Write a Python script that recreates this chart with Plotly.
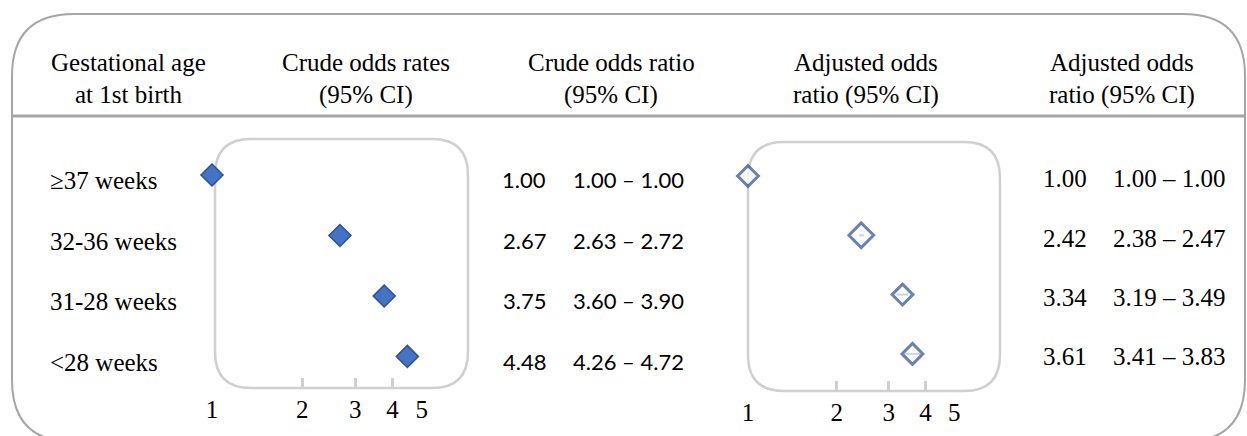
import math
import plotly.graph_objects as go

W, H = 1247, 436

# ---------------- data ----------------
groups = ["≥37 weeks", "32-36 weeks", "31-28 weeks", "<28 weeks"]
crude_or = [1.00, 2.67, 3.75, 4.48]
crude_lo = [1.00, 2.63, 3.60, 4.26]
crude_hi = [1.00, 2.72, 3.90, 4.72]
adj_or = [1.00, 2.42, 3.34, 3.61]
adj_lo = [1.00, 2.38, 3.19, 3.41]
adj_hi = [1.00, 2.47, 3.49, 3.83]
axis_ticks = [1, 2, 3, 4, 5]
inner_ticks = [2, 3, 4]
header_line1 = ["Gestational age", "Crude odds rates", "Crude odds ratio", "Adjusted odds", "Adjusted odds"]
header_line2 = ["at 1st birth", "(95% CI)", "(95% CI)", "ratio (95% CI)", "ratio (95% CI)"]

# ---------------- helpers ----------------
def fx(px):
    return px / W

def fy(py):
    return 1 - py / H

def rounded_path(x0, y0, x1, y1, r):
    """Rounded rectangle path in paper coordinates from pixel corners."""
    pts = [
        ("M", fx(x0 + r), fy(y0)),
        ("L", fx(x1 - r), fy(y0)),
        ("Q", fx(x1), fy(y0), fx(x1), fy(y0 + r)),
        ("L", fx(x1), fy(y1 - r)),
        ("Q", fx(x1), fy(y1), fx(x1 - r), fy(y1)),
        ("L", fx(x0 + r), fy(y1)),
        ("Q", fx(x0), fy(y1), fx(x0), fy(y1 - r)),
        ("L", fx(x0), fy(y0 + r)),
        ("Q", fx(x0), fy(y0), fx(x0 + r), fy(y0)),
    ]
    s = ""
    for p in pts:
        s += p[0] + " " + " ".join(f"{v:.5f}" for v in p[1:]) + " "
    return s + "Z"

SERIF = "'Liberation Serif', 'Times New Roman', Times, 'DejaVu Serif', serif"
SANS = "Lato, 'Open Sans', sans-serif"
BLUE = "#4472C4"
DARK_BLUE = "#2F528F"
OPEN_BLUE = "#2B4F8F"

fig = go.Figure()

# crude panel
fig.add_trace(go.Scatter(
    x=crude_or, y=groups, xaxis="x", yaxis="y", mode="markers",
    marker=dict(symbol="diamond", size=17, color=BLUE, line=dict(color=DARK_BLUE, width=1.5)),
    error_x=dict(type="data", symmetric=False,
                 array=[h - o for h, o in zip(crude_hi, crude_or)],
                 arrayminus=[o - l for o, l in zip(crude_or, crude_lo)],
                 color=BLUE, thickness=2, width=0),
    cliponaxis=False, showlegend=False, hoverinfo="x+y",
))

# adjusted panel
fig.add_trace(go.Scatter(
    x=adj_or, y=groups, xaxis="x2", yaxis="y2", mode="markers",
    marker=dict(symbol="diamond", size=[16, 19, 16, 16], color="white",
                line=dict(color=OPEN_BLUE, width=3)),
    error_x=dict(type="data", symmetric=False,
                 array=[h - o for h, o in zip(adj_hi, adj_or)],
                 arrayminus=[o - l for o, l in zip(adj_or, adj_lo)],
                 color=BLUE, thickness=2, width=0),
    cliponaxis=False, showlegend=False, hoverinfo="x+y",
))

# invisible carriers so the overlaid tick-mark axes get drawn
fig.add_trace(go.Scatter(x=inner_ticks, y=[groups[0]] * len(inner_ticks), xaxis="x3", yaxis="y",
                         mode="markers", marker=dict(opacity=0), hoverinfo="skip", showlegend=False))
fig.add_trace(go.Scatter(x=inner_ticks, y=[groups[0]] * len(inner_ticks), xaxis="x4", yaxis="y2",
                         mode="markers", marker=dict(opacity=0), hoverinfo="skip", showlegend=False))

# axis geometry (pixel mapping: px = origin + scale*log10(v))
L_orig, L_scale, L_dom = 212, 300, (200, 468)
R_orig, R_scale, R_dom = 748, 295, (735, 1000)
L_range = [(L_dom[0] - L_orig) / L_scale, (L_dom[1] - L_orig) / L_scale]
R_range = [(R_dom[0] - R_orig) / R_scale, (R_dom[1] - R_orig) / R_scale]

tickfont = dict(family=SERIF, size=25, color="black")
base_x = dict(type="log", showgrid=False, zeroline=False, showline=False, fixedrange=True)

fig.update_layout(
    xaxis=dict(**base_x, domain=[fx(L_dom[0]), fx(L_dom[1])], range=L_range, anchor="y",
               tickvals=axis_ticks, ticktext=[str(t) for t in axis_ticks], ticks="",
               tickfont=tickfont, ticklabelstandoff=4),
    xaxis3=dict(**base_x, overlaying="x", range=L_range, anchor="y", side="bottom", tickvals=inner_ticks,
                ticks="inside", ticklen=10, tickwidth=3, tickcolor="#d0d0d0", showticklabels=False),
    yaxis=dict(type="category", domain=[fy(388), fy(139)], range=[3.521, -0.595], anchor="x",
               showticklabels=False, showgrid=False, zeroline=False, showline=False, ticks="", fixedrange=True),
    xaxis2=dict(**base_x, domain=[fx(R_dom[0]), fx(R_dom[1])], range=R_range, anchor="y2",
                tickvals=axis_ticks, ticktext=[str(t) for t in axis_ticks], ticks="",
                tickfont=tickfont, ticklabelstandoff=4),
    xaxis4=dict(**base_x, overlaying="x2", range=R_range, anchor="y2", side="bottom", tickvals=inner_ticks,
                ticks="inside", ticklen=10, tickwidth=3, tickcolor="#d0d0d0", showticklabels=False),
    yaxis2=dict(type="category", domain=[fy(391), fy(142)], range=[3.626, -0.573], anchor="x2",
                showticklabels=False, showgrid=False, zeroline=False, showline=False, ticks="", fixedrange=True),
)

# shapes: outer frame, divider, inner panel frames
shapes = [
    dict(type="path", xref="paper", yref="paper", path=rounded_path(12, 14, 1245, 442, 62),
         line=dict(color="#a6a6a6", width=2), layer="below"),
    dict(type="line", xref="paper", yref="paper", x0=fx(12), x1=fx(1245), y0=fy(116), y1=fy(116),
         line=dict(color="#a6a6a6", width=3), layer="below"),
    dict(type="path", xref="paper", yref="paper", path=rounded_path(215, 139, 468, 388, 36),
         line=dict(color="#d0d0d0", width=2.5), layer="below"),
    dict(type="path", xref="paper", yref="paper", path=rounded_path(748, 142, 1000, 391, 36),
         line=dict(color="#d0d0d0", width=2.5), layer="below"),
]

annotations = []
header_x = [128, 366, 611, 866, 1122]
for hx, l1, l2 in zip(header_x, header_line1, header_line2):
    for txt, hy in ((l1, 63), (l2, 95)):
        annotations.append(dict(text=txt, x=fx(hx), y=fy(hy), xref="paper", yref="paper",
                                xanchor="center", yanchor="middle", showarrow=False,
                                font=dict(family=SERIF, size=25, color="black")))

for i, g in enumerate(groups):
    annotations.append(dict(text=g, x=fx(48), y=g, xref="paper", yref="y", xanchor="left",
                            yanchor="middle", yshift=-6, showarrow=False,
                            font=dict(family=SERIF, size=25, color="black")))
    annotations.append(dict(text=f"{crude_or[i]:.2f}", x=fx(524), y=g, xref="paper", yref="y",
                            xanchor="center", yanchor="middle", yshift=-5, showarrow=False,
                            font=dict(family=SANS, size=22, color="black")))
    annotations.append(dict(text=f"{crude_lo[i]:.2f} – {crude_hi[i]:.2f}", x=fx(628), y=g, xref="paper",
                            yref="y", xanchor="center", yanchor="middle", yshift=-5, showarrow=False,
                            font=dict(family=SANS, size=22, color="black")))
    annotations.append(dict(text=f"{adj_or[i]:.2f}", x=fx(1064.5), y=g, xref="paper", yref="y2",
                            xanchor="center", yanchor="middle", yshift=-3, showarrow=False,
                            font=dict(family=SERIF, size=25, color="black")))
    annotations.append(dict(text=f"{adj_lo[i]:.2f} – {adj_hi[i]:.2f}", x=fx(1169.5), y=g, xref="paper",
                            yref="y2", xanchor="center", yanchor="middle", yshift=-3, showarrow=False,
                            font=dict(family=SERIF, size=25, color="black")))

fig.update_layout(
    width=W, height=H, autosize=False,
    margin=dict(l=0, r=0, t=0, b=0, pad=0),
    paper_bgcolor="white", plot_bgcolor="rgba(0,0,0,0)",
    shapes=shapes, annotations=annotations, showlegend=False,
)

fig.write_html("out.html", config={"displayModeBar": False},
               post_script="document.body.style.margin='0';")
